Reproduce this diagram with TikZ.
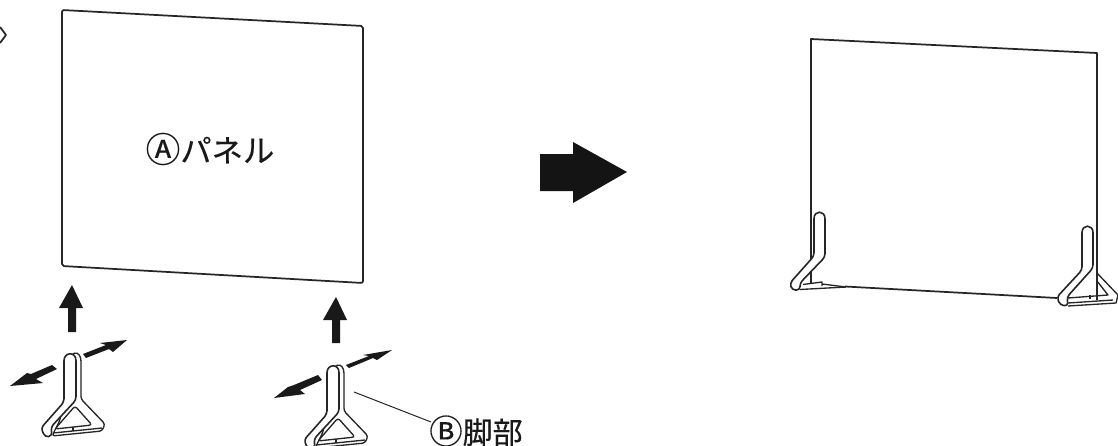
\documentclass[tikz,border=0pt]{standalone}
\usepackage{fontspec}
\setmainfont{Liberation Sans}
\newfontfamily\cjk[FakeBold=0.35]{Noto Sans CJK JP}
\begin{document}
\begin{tikzpicture}[x=0.75pt,y=-0.75pt,
  panelline/.style={line width=1.3pt,draw=black!85,line join=round},
  footline/.style={line width=1.2pt,draw=black!85,line join=round,fill=white},
  inline/.style={line width=1pt,draw=black!85,line join=round},
  thin leader/.style={line width=0.75pt,draw=black!85},
  solidarrow/.style={fill=black!90,draw=none},
  lab/.style={inner sep=0pt,text=black!90},
  footpic/.pic={
    % back part
    \draw[inline,fill=white,rounded corners=2pt] (72,354) .. controls (78,352) and (81,356) .. (81,364) -- (81,399) -- (105,424) -- (102,431) -- (52,436) -- (60,420) -- cycle;
    % inner triangle
    \draw[inline,rounded corners=2pt] (75,406) -- (55,429) -- (92,425) -- cycle;
    \draw[inline] (53,433) -- (102,428);
    \draw[inline] (73,427) -- (73,431);
    % front part
    \draw[footline,rounded corners=2.5pt] (64,364) .. controls (64,352) and (76,351) .. (76,364) -- (76,400) -- (51,427) -- (52,436) -- (45,437) -- (41,428) -- (64,402) -- cycle;
  }]
\useasboundingbox (0,0) rectangle (1118,446);
\clip (0,0) rectangle (1118,446);
\draw[panelline] (0,27) -- (6,35) -- (0,43);
\coordinate (a1) at (62,10); \coordinate (a2) at (363,26);
\coordinate (a3) at (363,283); \coordinate (a4) at (62,266);
\draw[panelline,rounded corners=1.5pt] (a1) -- (a2) -- (a3) -- (a4) -- cycle;
\node[lab] (pa) at (210,149) {\cjk\fontsize{26}{26}\selectfont Ⓐ\fontsize{23.5}{26}\selectfont パネル};
\fill[black!92] (540,154) -- (573,154) -- (573,142) -- (627,172) -- (573,203) -- (573,191) -- (540,191) -- cycle;
\fill[solidarrow] (72,285) -- (83,308) -- (76,308) -- (76,332) -- (68,332) -- (68,308) -- (59,308) -- cycle;
\fill[solidarrow] (336,297) -- (347,320) -- (340,320) -- (340,343) -- (332,343) -- (332,320) -- (323,320) -- cycle;
\pic at (0,0) {footpic};
\pic at (263,12) {footpic};
\fill[solidarrow] (83,354) -- (106,345) -- (100,343) -- (127,340) -- (113,352) -- (109,349) -- (86,358) -- cycle;
\fill[solidarrow] (57,369) -- (36,379) -- (43,383) -- (10,386) -- (27,373) -- (31,374) -- (52,365) -- cycle;
\fill[solidarrow] (346,365) -- (369,356) -- (363,355) -- (392,350) -- (377,360) -- (373,358) -- (349,368) -- cycle;
\fill[solidarrow] (322,380) -- (300,390) -- (305,394) -- (274,398) -- (288,387) -- (294,385) -- (318,375) -- cycle;
\node[lab] (pb) at (476,431) {\cjk\fontsize{25}{25}\selectfont Ⓑ\fontsize{22.5}{25}\selectfont 脚部};
\coordinate (b1) at (354,392);
\draw[thin leader] (b1) -- (431,422);
\coordinate (c1) at (811,39); \coordinate (c2) at (1097,53);
\draw[panelline] (811,283) -- (c1) -- (c2) -- (1097,300);
\draw[panelline] (845,286.5) -- (1057,298);
% left foot
\draw[footline,rounded corners=2.5pt] (814,222) .. controls (814,210) and (825,210) .. (825,222) -- (825,257) -- (800,283) -- (800,290) -- (792,290) -- (790,283) -- (814,256) -- cycle;
\draw[inline] (803,284.5) -- (822,282) -- (822,286);
\draw[inline] (800,289.5) -- (846,287);
\draw[inline] (822,284) -- (846,287);
% right foot
\draw[inline] (1097,273) -- (1118,295) -- (1116,303) -- (1068,306);
\draw[inline] (1068,303) -- (1113,300);
\draw[inline] (1097,281) -- (1108,295) -- (1068,298);
\draw[inline] (1090,299) -- (1090,295);
\draw[footline,rounded corners=2.5pt] (1082,236) .. controls (1082,224) and (1093,224) .. (1093,236) -- (1093,268) -- (1067,297) -- (1068,306) -- (1060,305) -- (1057,297) -- (1082,270) -- cycle;
\end{tikzpicture}
\end{document}
